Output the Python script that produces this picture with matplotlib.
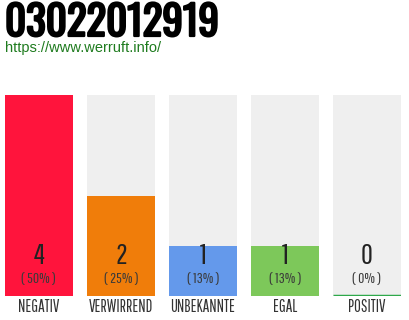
import matplotlib
matplotlib.use("Agg")
import matplotlib.pyplot as plt
import matplotlib.transforms as mtransforms
import matplotlib.patheffects as pe

W, H = 410, 320

title = "03022012919"
url = "https://www.werruft.info/"
categories = ["NEGATIV", "VERWIRREND", "UNBEKANNTE", "EGAL", "POSITIV"]
counts = [4, 2, 1, 1, 0]
percents = ["50%", "25%", "13%", "13%", "0%"]
colors = ["#FF143C", "#F07D0A", "#6499EB", "#7DC85A", "#2EA84A"]
ymax = 4

THIN = ["Pathway Gothic One", "Oswald", "DejaVu Sans"]

fig = plt.figure(figsize=(W / 100, H / 100), dpi=100)
fig.patch.set_facecolor("white")

# axes placed in pixel terms: bars from x=5 to 401, y=95 to 296 (from top)
ax = fig.add_axes([5 / W, (H - 296) / H, 396 / W, 201 / H])
bw = 68 / 82
ax.set_xlim(-bw / 2, len(categories) - 1 + bw / 2)
ax.set_ylim(0, ymax)
ax.axis("off")

xs = list(range(len(categories)))
ax.bar(xs, [ymax] * len(xs), width=bw, color="#EFEFEF", zorder=1)
for x, c, col in zip(xs, counts, colors):
    if c > 0:
        ax.bar(x, c, width=bw, color=col, zorder=2)
    else:
        # empty category: only a thin coloured base line
        ax.hlines(0, x - bw / 2, x + bw / 2, colors=col, linewidth=2.5, zorder=3)

# text in data-x / figure-pixel-y coordinates
tr = mtransforms.blended_transform_factory(ax.transData, fig.transFigure)
for x, c, p, lab in zip(xs, counts, percents, categories):
    ax.text(x, (H - 264) / H, str(c), transform=tr, ha="center", va="baseline",
            fontsize=21, color="#222222", family=THIN)
    ax.text(x, (H - 283) / H, "( %s )" % p, transform=tr, ha="center", va="baseline",
            fontsize=11, color="#3a3a3a", family=THIN)
    ax.text(x, (H - 312) / H, lab, transform=tr, ha="center", va="baseline",
            fontsize=12, color="#333333", family=THIN)

fig.text(5 / W, (H - 36) / H, title, ha="left", va="baseline",
         fontsize=29.5, color="#000000", family=["Oswald", "DejaVu Sans"],
         path_effects=[pe.withStroke(linewidth=1.6, foreground="#000000")])
fig.text(5 / W, (H - 52) / H, url, ha="left", va="baseline",
         fontsize=10.5, color="#1E7B1E", family=["Liberation Sans", "DejaVu Sans"])

fig.savefig("out.png", dpi=100)
